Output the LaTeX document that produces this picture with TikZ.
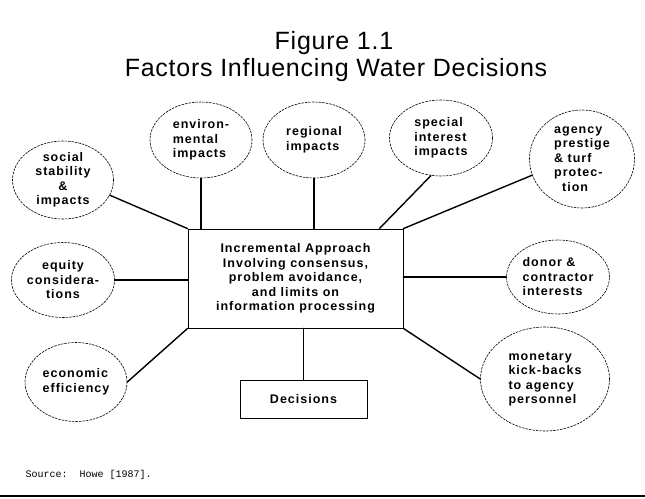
\documentclass[tikz,border=0pt]{standalone}
\usepackage{fontspec}
\setmainfont{Liberation Sans}
\newfontfamily\lblfont{Liberation Sans}[LetterSpace=8]
\newfontfamily\ttlfont{Liberation Sans}[LetterSpace=3]
\newfontfamily\srcfont{Liberation Mono}
\usepackage{tikz}
\usetikzlibrary{
  calc,
  positioning,
  shapes,
  shapes.geometric,
}
\tikzstyle{factor} = [
  draw,
  ellipse,
  inner sep=0pt,
  line width=0.6pt,
  dash pattern=on 2.5pt off 1pt,
  font=\lblfont\bfseries\fontsize{12.5}{14.5}\selectfont,
]
\tikzstyle{link} = [
  line width=1.4pt,
  line cap=round,
]

\begin{document}
\begin{tikzpicture}[x=1pt,y=-1pt]
        \useasboundingbox (0,0) rectangle (645,498);

        \node[font=\ttlfont\fontsize{25}{28}\selectfont] (fig) at (334,43) {Figure 1.1};
        \node[font=\ttlfont\fontsize{25}{28}\selectfont] (title) at (336,70) {Factors Influencing Water Decisions};

        \node[draw,rectangle,line width=0.8pt,minimum width=215,minimum height=99,align=center,
              font=\lblfont\bfseries\fontsize{12.5}{14.5}\selectfont] (inc) at (295.5,278.5)
              {Incremental Approach\\Involving consensus,\\problem avoidance,\\and limits on\\information processing};
        \node[draw,rectangle,line width=0.8pt,minimum width=127,minimum height=38,
              font=\lblfont\bfseries\fontsize{12.5}{14.5}\selectfont] (dec) at (303.5,399) {Decisions};

        \node[factor,minimum width=101,minimum height=76,align=center] (social) at (63,180) {social\\stability\\\&\\impacts};
        \node[factor,minimum width=102,minimum height=76,align=left] (env) at (201,140) {environ-\\mental\\impacts};
        \node[factor,minimum width=102,minimum height=76,align=left] (reg) at (314,140) {regional\\impacts};
        \node[factor,minimum width=103,minimum height=76,align=left] (spec) at (441,138) {special\\interest\\impacts};
        \node[factor,minimum width=105,minimum height=98,align=left] (agency) at (582,159) {agency\\prestige\\\& turf\\protec-\\\hspace{8pt}tion};
        \node[factor,minimum width=103,minimum height=75,align=center] (equity) at (63,280) {equity\\considera-\\tions};
        \node[factor,minimum width=102,minimum height=79,align=left] (econ) at (76,382) {economic\\efficiency};
        \node[factor,minimum width=103,minimum height=74,align=left] (donor) at (558,277) {donor \&\\contractor\\interests};
        \node[factor,minimum width=129,minimum height=104,align=left] (money) at (545,379) {monetary\\kick-backs\\to agency\\personnel};

        \node[anchor=west,font=\srcfont\fontsize{10}{12}\selectfont] (src) at (22,475) {Source:~~Howe [1987].};

        \draw[link] (social.-18) -- (inc.north west);
        \draw[link] (env.south) -- (env.south |- inc.north);
        \draw[link] (reg.south) -- (reg.south |- inc.north);
        \draw[link] (spec.-105) -- ([xshift=-24pt]inc.north east);
        \draw[link] (agency.198) -- (inc.north east);
        \draw[link] (equity.east) -- (inc.west |- equity.east);
        \draw[link] (donor.west) -- (inc.east |- donor.west);
        \draw[link] (econ.east) -- (inc.south west);
        \draw[link] (money.west) -- (inc.south east);
        \draw[link] (dec.north) -- (dec.north |- inc.south);

        \draw[line width=1.5pt] (0,496) -- (645,496);

        \end{tikzpicture}
\end{document}
